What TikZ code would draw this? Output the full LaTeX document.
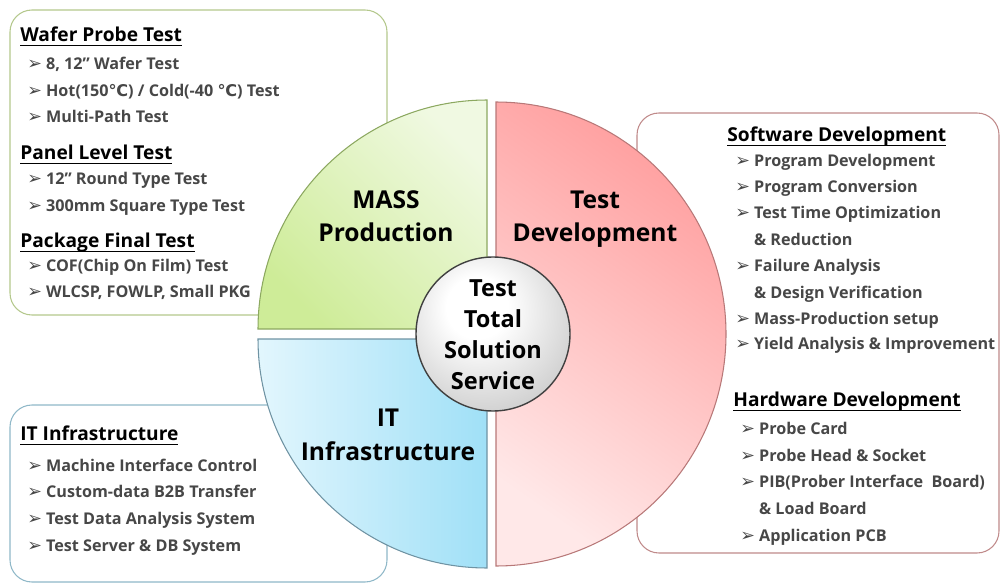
\documentclass[tikz,border=0pt]{standalone}
\usepackage{fontspec}
\setmainfont{Open Sans}
\newfontfamily\sym{DejaVu Sans}
\definecolor{itemgray}{HTML}{474747}
\definecolor{gbox}{HTML}{B4C88C}
\definecolor{rbox}{HTML}{C08A8A}
\definecolor{bbox}{HTML}{8FB8C8}
\definecolor{gline}{HTML}{8CA860}
\definecolor{rline}{HTML}{B87878}
\definecolor{bline}{HTML}{6F93A3}
\newcommand\myul[1]{\setbox0\hbox{#1}\rlap{\rule[-2.6pt]{\wd0}{0.75pt}}\box0}
\newcommand\arr{{\sym\fontsize{10}{10}\selectfont ➢}\hspace{0.25em}}
\newcommand\dc{{\sym\bfseries ℃}}
\pgfdeclareradialshading{centerball}{\pgfpoint{-6bp}{10bp}}{color(0bp)=(white); color(10bp)=(white); color(55bp)=(black!38); color(70bp)=(black!40)}
\tikzset{
  item/.style={font=\bfseries\fontsize{9.2}{11}\selectfont, text=itemgray, anchor=mid west, inner sep=0pt},
  head/.style={font=\bfseries\fontsize{10.9}{13}\selectfont, text=black, anchor=mid west, inner sep=0pt},
  big/.style={font=\bfseries\fontsize{14}{19}\selectfont, text=black, align=center, inner sep=0pt},
  listbox/.style={rounded corners=0.44cm, line width=0.6pt, fill=white}
}
\begin{document}
\begin{tikzpicture}[x=0.02cm,y=0.02cm]
\useasboundingbox (0,0) rectangle (1001,586);
% list boxes
\draw[listbox, draw=gbox] (10,576) rectangle (387,271);
\draw[listbox, draw=rbox] (637,473) rectangle (999,33);
\draw[listbox, draw=bbox] (10,181) rectangle (387,4);
% sectors
\shade[top color=red!38!white, bottom color=red!9!white, shading angle=-35, draw=rline, line width=0.6pt]
  (496,484) arc[start angle=90, end angle=-90, x radius=230, y radius=232] -- cycle;
\shade[top color={rgb,255:red,240;green,249;blue,226}, bottom color={rgb,255:red,206;green,236;blue,152}, shading angle=-45, draw=gline, line width=0.6pt]
  (487,257) -- (258,257) arc[start angle=180, end angle=90, radius=229] -- cycle;
\shade[left color={rgb,255:red,226;green,246;blue,253}, right color={rgb,255:red,160;green,224;blue,247}, draw=bline, line width=0.6pt]
  (487,247) -- (258,247) arc[start angle=180, end angle=270, radius=229] -- cycle;
% big labels
\node[big] (mass) at (386,370) {MASS\\Production};
\node[big] (tdev) at (595,367) {Test\\Development};
\node[big] (itinf) at (388,151) {IT\\Infrastructure};
% center circle
\shade[shading=centerball, draw=black!75, line width=0.8pt] (493,252) circle[radius=77];
\node[big, font=\bfseries\fontsize{13.4}{17.6}\selectfont] (tts) at (493,251) {Test\\Total\\Solution\\Service};
% green box text
\node[head] (h1) at (20,549) {\myul{Wafer Probe Test}};
\node[item] (g1) at (27,521) {\arr 8, 12” Wafer Test};
\node[item] (g2) at (27,494) {\arr Hot(150\dc) / Cold(-40 \dc) Test};
\node[item] (g3) at (27,468) {\arr Multi-Path Test};
\node[head] (h2) at (20,431) {\myul{Panel Level Test}};
\node[item] (g4) at (27,406) {\arr 12” Round Type Test};
\node[item] (g5) at (27,379) {\arr 300mm Square Type Test};
\node[head] (h3) at (20,343) {\myul{Package Final Test}};
\node[item] (g6) at (27,319) {\arr COF(Chip On Film) Test};
\node[item] (g7) at (27,293) {\arr WLCSP, FOWLP, Small PKG};
% red box text
\node[head] (h4) at (727,449) {\myul{Software Development}};
\node[item] (r1) at (735,424) {\arr Program Development};
\node[item] (r2) at (735,398) {\arr Program Conversion};
\node[item] (r3) at (735,372) {\arr Test Time Optimization};
\node[item] (r4) at (735,345) {\phantom{\arr}\& Reduction};
\node[item] (r5) at (735,319) {\arr Failure Analysis};
\node[item] (r6) at (735,292) {\phantom{\arr}\& Design Verification};
\node[item] (r7) at (735,266) {\arr Mass-Production setup};
\node[item] (r8) at (735,241) {\arr Yield Analysis \& Improvement};
\node[head] (h5) at (733,184) {\myul{Hardware Development}};
\node[item] (r9) at (740,156) {\arr Probe Card};
\node[item] (r10) at (740,129) {\arr Probe Head \& Socket};
\node[item] (r11) at (740,103) {\arr PIB(Prober Interface\ \ Board)};
\node[item] (r12) at (740,76) {\phantom{\arr}\& Load Board};
\node[item] (r13) at (740,49) {\arr Application PCB};
% blue box text
\node[head] (h6) at (20,150) {\myul{IT Infrastructure}};
\node[item] (b1) at (27,119) {\arr Machine Interface Control};
\node[item] (b2) at (27,93) {\arr Custom-data B2B Transfer};
\node[item] (b3) at (27,66) {\arr Test Data Analysis System};
\node[item] (b4) at (27,39) {\arr Test Server \& DB System};
\end{tikzpicture}
\end{document}
